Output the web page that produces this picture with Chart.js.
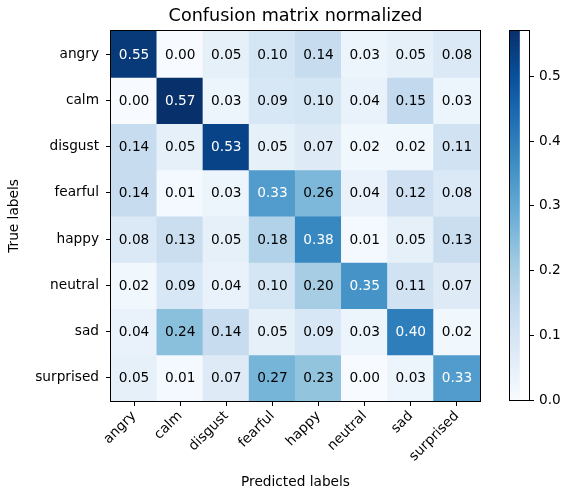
<!DOCTYPE html>
<html>
<head>
<meta charset="utf-8">
<script src="https://cdn.jsdelivr.net/npm/chart.js@4.4.1/dist/chart.umd.min.js"></script>
<style>
  html, body { margin: 0; padding: 0; background: #ffffff; }
  #wrap { position: relative; width: 561px; height: 495px; }
  #main { position: absolute; left: 0; top: 0; }
  #cbar { position: absolute; left: 490px; top: 0; }
</style>
</head>
<body>
<div id="wrap">
  <canvas id="main" width="561" height="495"></canvas>
  <canvas id="cbar" width="71" height="495"></canvas>
</div>
<script>
// ---- data ----
const categories = ['angry', 'calm', 'disgust', 'fearful', 'happy', 'neutral', 'sad', 'surprised'];
const rowAngry     = [0.55, 0.00, 0.05, 0.10, 0.14, 0.03, 0.05, 0.08];
const rowCalm      = [0.00, 0.57, 0.03, 0.09, 0.10, 0.04, 0.15, 0.03];
const rowDisgust   = [0.14, 0.05, 0.53, 0.05, 0.07, 0.02, 0.02, 0.11];
const rowFearful   = [0.14, 0.01, 0.03, 0.33, 0.26, 0.04, 0.12, 0.08];
const rowHappy     = [0.08, 0.13, 0.05, 0.18, 0.38, 0.01, 0.05, 0.13];
const rowNeutral   = [0.02, 0.09, 0.04, 0.10, 0.20, 0.35, 0.11, 0.07];
const rowSad       = [0.04, 0.24, 0.14, 0.05, 0.09, 0.03, 0.40, 0.02];
const rowSurprised = [0.05, 0.01, 0.07, 0.27, 0.23, 0.00, 0.03, 0.33];
const colorbarTicks = [0.0, 0.1, 0.2, 0.3, 0.4, 0.5];

const matrix = [rowAngry, rowCalm, rowDisgust, rowFearful, rowHappy, rowNeutral, rowSad, rowSurprised];
const vmin = Math.min(...matrix.flat());
const vmax = Math.max(...matrix.flat());

// matplotlib "Blues"
const blues = ['#f7fbff', '#deebf7', '#c6dbef', '#9ecae1', '#6baed6', '#4292c6', '#2171b5', '#08519c', '#08306b'];
function hex2rgb(h) { return [parseInt(h.substr(1,2),16), parseInt(h.substr(3,2),16), parseInt(h.substr(5,2),16)]; }
const bluesRGB = blues.map(hex2rgb);
function cmap(v) {
  let t = (v - vmin) / (vmax - vmin);
  t = Math.max(0, Math.min(1, t));
  const p = t * (bluesRGB.length - 1);
  const i = Math.min(Math.floor(p), bluesRGB.length - 2);
  const f = p - i;
  const a = bluesRGB[i], b = bluesRGB[i + 1];
  return 'rgb(' + a.map((c, k) => Math.round(c + (b[k] - c) * f)).join(',') + ')';
}

const FONT = 'DejaVu Sans';
const TICK_SIZE = 13.7;
const TITLE_TEXT = 'Confusion matrix normalized';
Chart.defaults.font.family = FONT;
Chart.defaults.color = '#000000';

const datasets = matrix.map((row, i) => ({
  label: categories[i],
  data: row.map(() => 1),
  values: row,
  backgroundColor: row.map(v => cmap(v)),
  borderWidth: 0,
  barPercentage: 1.0,
  categoryPercentage: 1.0,
  inflateAmount: 0.6
}));

const cellText = {
  id: 'cellText',
  afterDatasetsDraw(chart) {
    const ctx = chart.ctx;
    ctx.save();
    ctx.font = TICK_SIZE + 'px "' + FONT + '"';
    ctx.textAlign = 'center';
    ctx.textBaseline = 'middle';
    chart.data.datasets.forEach((ds, i) => {
      const meta = chart.getDatasetMeta(i);
      meta.data.forEach((el, j) => {
        const v = ds.values[j];
        ctx.fillStyle = v > vmax / 2 ? '#ffffff' : '#000000';
        ctx.fillText(v.toFixed(2), el.x, (el.y + el.base) / 2 + 1);
      });
    });
    // frame
    const a = chart.chartArea;
    ctx.strokeStyle = '#000000';
    ctx.lineWidth = 1;
    ctx.strokeRect(Math.round(a.left) - 0.5, Math.round(a.top) - 0.5,
                   Math.round(a.right - a.left) + 1, Math.round(a.bottom - a.top) + 1);
    // title centred over the plot area
    ctx.fillStyle = '#000000';
    ctx.font = '17.6px "' + FONT + '"';
    ctx.textAlign = 'center';
    ctx.textBaseline = 'middle';
    ctx.fillText(TITLE_TEXT, (a.left + a.right) / 2, 16);
    ctx.restore();
  }
};

new Chart(document.getElementById('main'), {
  type: 'bar',
  data: { labels: categories, datasets: datasets },
  options: {
    responsive: false,
    animation: false,
    events: [],
    layout: { padding: { left: 0, right: 81, top: 31, bottom: 0 } },
    plugins: {
      legend: { display: false },
      tooltip: { enabled: false },
      title: { display: false }
    },
    scales: {
      x: {
        type: 'category',
        stacked: true,
        offset: true,
        grid: { display: true, drawOnChartArea: false, drawTicks: true, tickLength: 5, tickWidth: 1, tickColor: '#000000', offset: false },
        border: { display: true, color: '#000000', width: 1 },
        ticks: { color: '#000000', font: { family: FONT, size: TICK_SIZE }, maxRotation: 45, minRotation: 45, padding: 2, autoSkip: false },
        title: { display: true, text: 'Predicted labels', color: '#000000', font: { family: FONT, size: TICK_SIZE }, padding: { top: 0, bottom: 4 } },
        afterFit(scale) { scale.height = 94; }
      },
      y: {
        type: 'linear',
        stacked: true,
        reverse: true,
        min: 0,
        max: categories.length,
        grid: { display: true, drawOnChartArea: false, drawTicks: true, tickLength: 5, tickWidth: 1, tickColor: '#000000' },
        border: { display: true, color: '#000000', width: 1 },
        afterBuildTicks(scale) { scale.ticks = categories.map((c, i) => ({ value: i + 0.5 })); },
        ticks: { color: '#000000', font: { family: FONT, size: TICK_SIZE }, padding: 7,
                 callback: (v) => categories[Math.floor(v)] },
        title: { display: true, text: 'True labels', color: '#000000', font: { family: FONT, size: TICK_SIZE }, padding: { top: 6, bottom: 0 } },
        afterFit(scale) { scale.width = 111; }
      }
    }
  },
  plugins: [cellText]
});

// ---- colorbar ----
const cbarFrame = {
  id: 'cbarFrame',
  afterDatasetsDraw(chart) {
    const ctx = chart.ctx, a = chart.chartArea;
    ctx.save();
    ctx.strokeStyle = '#000000';
    ctx.lineWidth = 1;
    ctx.strokeRect(Math.round(a.left) - 0.5, Math.round(a.top) - 0.5,
                   Math.round(a.right - a.left) + 1, Math.round(a.bottom - a.top) + 1);
    ctx.restore();
  }
};

new Chart(document.getElementById('cbar'), {
  type: 'bar',
  data: {
    labels: [''],
    datasets: [{
      data: [[vmin, vmax]],
      borderWidth: 0,
      barPercentage: 1.0,
      categoryPercentage: 1.0,
      backgroundColor(context) {
        const chart = context.chart;
        const a = chart.chartArea;
        if (!a) return blues[4];
        const ys = chart.scales.y;
        const g = chart.ctx.createLinearGradient(0, ys.getPixelForValue(vmin), 0, ys.getPixelForValue(vmax));
        blues.forEach((c, i) => g.addColorStop(i / (blues.length - 1), c));
        return g;
      }
    }]
  },
  options: {
    responsive: false,
    animation: false,
    events: [],
    layout: { padding: { left: 20, right: 0, top: 31, bottom: 95 } },
    plugins: { legend: { display: false }, tooltip: { enabled: false } },
    scales: {
      x: { display: false, offset: false },
      y: {
        type: 'linear',
        position: 'right',
        min: vmin,
        max: vmax,
        grid: { display: true, drawOnChartArea: false, drawTicks: true, tickLength: 5, tickWidth: 1, tickColor: '#000000' },
        border: { display: true, color: '#000000', width: 1 },
        afterBuildTicks(scale) { scale.ticks = colorbarTicks.map(v => ({ value: v })); },
        ticks: { color: '#000000', font: { family: FONT, size: TICK_SIZE }, padding: 5, callback: (v) => Number(v).toFixed(1) },
        afterFit(scale) { scale.width = 32; }
      }
    }
  },
  plugins: [cbarFrame]
});
</script>
</body>
</html>
